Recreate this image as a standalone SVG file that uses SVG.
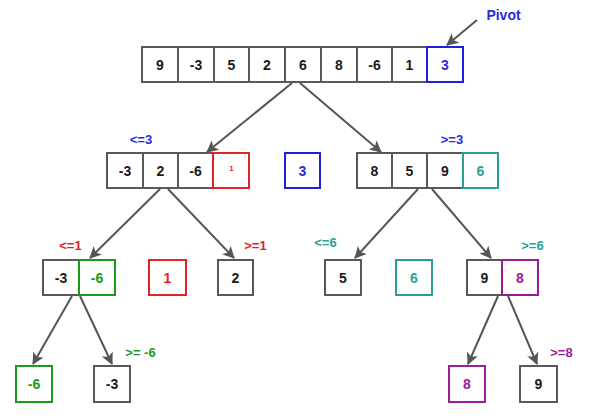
<svg xmlns="http://www.w3.org/2000/svg" width="596" height="419" viewBox="0 0 596 419">
  <style>
    .cell { fill: #ffffff; stroke: #595959; stroke-width: 2; }
    .blue { stroke: #1f1fe0; }
    .red { stroke: #e02424; }
    .teal { stroke: #2a9f98; }
    .green { stroke: #1c9a1c; }
    .purple { stroke: #9a1c9a; }
    .num { font-family: "Liberation Sans", Arial, sans-serif; font-size: 14px; font-weight: bold; text-anchor: middle; fill: #1a1a1a; }
    .lbl { font-family: "Liberation Sans", Arial, sans-serif; font-size: 13px; font-weight: bold; text-anchor: middle; }
    .tb { fill: #2a2ae0; }
    .tr { fill: #e02424; }
    .tt { fill: #2a9f98; }
    .tg { fill: #1c9a1c; }
    .tp { fill: #9a1c9a; }
    .edge { stroke: #555555; stroke-width: 2; fill: none; marker-end: url(#head); }
  </style>
  <defs>
    <marker id="head" viewBox="0 0 12 12" refX="11" refY="6" markerWidth="12" markerHeight="12" markerUnits="userSpaceOnUse" orient="auto">
      <path d="M0,0 L12,6 L0,12 L3,6 Z" fill="#555555"/>
    </marker>
  </defs>

  <!-- connectors -->
  <g id="connectors">
    <line class="edge" x1="477" y1="20" x2="447" y2="45"/>
    <line class="edge" x1="292" y1="83" x2="207" y2="152"/>
    <line class="edge" x1="300" y1="83" x2="381" y2="152"/>
    <line class="edge" x1="160" y1="189" x2="90" y2="258"/>
    <line class="edge" x1="168" y1="189" x2="234" y2="258"/>
    <line class="edge" x1="418" y1="189" x2="355" y2="258"/>
    <line class="edge" x1="432" y1="189" x2="491" y2="258"/>
    <line class="edge" x1="72" y1="296" x2="33" y2="364"/>
    <line class="edge" x1="80" y1="296" x2="112" y2="364"/>
    <line class="edge" x1="498" y1="296" x2="468" y2="364"/>
    <line class="edge" x1="508" y1="296" x2="537" y2="364"/>
  </g>

  <!-- full array -->
  <g id="array">
    <rect class="cell" x="142" y="47" width="36" height="35"/>
    <rect class="cell" x="178" y="47" width="36" height="35"/>
    <rect class="cell" x="214" y="47" width="35" height="35"/>
    <rect class="cell" x="249" y="47" width="36" height="35"/>
    <rect class="cell" x="285" y="47" width="36" height="35"/>
    <rect class="cell" x="321" y="47" width="36" height="35"/>
    <rect class="cell" x="357" y="47" width="35" height="35"/>
    <rect class="cell" x="392" y="47" width="35" height="35"/>
    <rect class="cell blue" x="427" y="47" width="36" height="35"/>
    <text class="num" x="160" y="70">9</text>
    <text class="num" x="196" y="70">-3</text>
    <text class="num" x="231.5" y="70">5</text>
    <text class="num" x="267" y="70">2</text>
    <text class="num" x="303" y="70">6</text>
    <text class="num" x="339" y="70">8</text>
    <text class="num" x="374.5" y="70">-6</text>
    <text class="num" x="409.5" y="70">1</text>
    <text class="num tb" x="445" y="70">3</text>
  </g>
  <g id="pivot-label">
    <text class="lbl tb" x="503.5" y="20" style="font-size:14px">Pivot</text>
  </g>

  <!-- second level -->
  <g id="left-part">
    <text class="lbl tb" x="141" y="144">&lt;=3</text>
    <rect class="cell" x="107" y="153" width="36" height="35"/>
    <rect class="cell" x="143" y="153" width="35" height="35"/>
    <rect class="cell" x="178" y="153" width="35" height="35"/>
    <rect class="cell red" x="213" y="153" width="36" height="35"/>
    <text class="num" x="125" y="176">-3</text>
    <text class="num" x="160.5" y="176">2</text>
    <text class="num" x="195.5" y="176">-6</text>
    <text class="num tr" x="231.5" y="170.5" style="font-size:8px">1</text>
  </g>
  <g id="pivot-3">
    <rect class="cell blue" x="285" y="153" width="35" height="35"/>
    <text class="num tb" x="302.5" y="176">3</text>
  </g>
  <g id="right-part">
    <text class="lbl tb" x="452" y="144">&gt;=3</text>
    <rect class="cell" x="357" y="153" width="35" height="35"/>
    <rect class="cell" x="392" y="153" width="35" height="35"/>
    <rect class="cell" x="427" y="153" width="36" height="35"/>
    <rect class="cell teal" x="463" y="153" width="35" height="35"/>
    <text class="num" x="374.5" y="176">8</text>
    <text class="num" x="409.5" y="176">5</text>
    <text class="num" x="445" y="176">9</text>
    <text class="num tt" x="480.5" y="176">6</text>
  </g>

  <!-- third level -->
  <g id="part-le1">
    <text class="lbl tr" x="70.5" y="250">&lt;=1</text>
    <rect class="cell" x="43" y="260" width="36" height="35"/>
    <rect class="cell green" x="79" y="260" width="36" height="35"/>
    <text class="num" x="61" y="283">-3</text>
    <text class="num tg" x="97" y="283">-6</text>
  </g>
  <g id="pivot-1">
    <rect class="cell red" x="149" y="260" width="37" height="35"/>
    <text class="num tr" x="167.5" y="283">1</text>
  </g>
  <g id="part-ge1">
    <text class="lbl tr" x="255.5" y="250">&gt;=1</text>
    <rect class="cell" x="218" y="260" width="35" height="35"/>
    <text class="num" x="235.5" y="283">2</text>
  </g>
  <g id="part-le6">
    <text class="lbl tt" x="325.5" y="247">&lt;=6</text>
    <rect class="cell" x="325" y="260" width="36" height="35"/>
    <text class="num" x="343" y="283">5</text>
  </g>
  <g id="pivot-6">
    <rect class="cell teal" x="396" y="260" width="36" height="35"/>
    <text class="num tt" x="414" y="283">6</text>
  </g>
  <g id="part-ge6">
    <text class="lbl tt" x="532.5" y="250">&gt;=6</text>
    <rect class="cell" x="467" y="260" width="35" height="35"/>
    <rect class="cell purple" x="502" y="260" width="36" height="35"/>
    <text class="num" x="484.5" y="283">9</text>
    <text class="num tp" x="520" y="283">8</text>
  </g>

  <!-- fourth level -->
  <g id="pivot-neg6">
    <rect class="cell green" x="16" y="366" width="36" height="36"/>
    <text class="num tg" x="34" y="389">-6</text>
  </g>
  <g id="part-ge-neg6">
    <text class="lbl tg" x="140.5" y="357">&gt;= -6</text>
    <rect class="cell" x="94" y="366" width="36" height="36"/>
    <text class="num" x="112" y="389">-3</text>
  </g>
  <g id="pivot-8">
    <rect class="cell purple" x="449" y="366" width="36" height="36"/>
    <text class="num tp" x="467" y="389">8</text>
  </g>
  <g id="part-ge8">
    <text class="lbl tp" x="561.5" y="357">&gt;=8</text>
    <rect class="cell" x="520" y="366" width="37" height="36"/>
    <text class="num" x="538.5" y="389">9</text>
  </g>
</svg>
